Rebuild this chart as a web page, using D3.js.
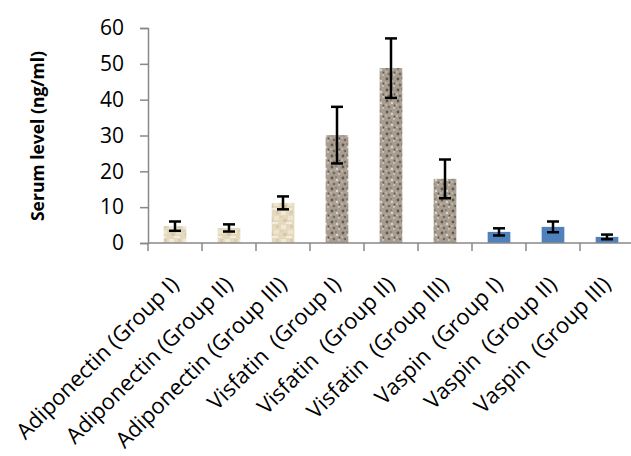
<!DOCTYPE html>
<html lang="en">
<head>
<meta charset="utf-8">
<title>Serum levels</title>
<script src="https://cdnjs.cloudflare.com/ajax/libs/d3/7.8.5/d3.min.js"></script>
<style>
  body { margin: 0; background: #fff; }
  text { font-family: "Open Sans", sans-serif; fill: #000; }
  .xlab { white-space: pre; }
</style>
</head>
<body>
<script>
// data
var categories = ["Adiponectin (Group I)", "Adiponectin (Group II)", "Adiponectin (Group III)",
                  "Visfatin  (Group I)", "Visfatin  (Group II)", "Visfatin  (Group III)",
                  "Vaspin  (Group I)", "Vaspin  (Group II)", "Vaspin  (Group III)"];
var hormone = ["adiponectin", "adiponectin", "adiponectin",
               "visfatin", "visfatin", "visfatin",
               "vaspin", "vaspin", "vaspin"];
var means = [4.7, 4.2, 11.2, 30.1, 48.8, 17.9, 3.1, 4.5, 1.7];
var errors = [1.3, 1.0, 1.8, 7.9, 8.3, 5.4, 1.0, 1.5, 0.65];
var yTicks = [0, 10, 20, 30, 40, 50, 60];

var w = 631, h = 456;
var mLeft = 148, mRight = 634, mTop = 28, mBottom = 243;

var svg = d3.select("body").append("svg")
  .attr("width", w)
  .attr("height", h);

// textures for the bars
var defs = svg.append("defs");

var beige = defs.append("pattern").attr("id", "adiponectin")
  .attr("patternUnits", "userSpaceOnUse").attr("width", 14).attr("height", 14);
beige.append("rect").attr("width", 14).attr("height", 14).attr("fill", "#e4d8bd");
[[1,1,5,4,"#f1e9d8"],[8,6,5,4,"#eee4cf"],[3,9,4,3,"#d6c8ab"],[10,1,3,3,"#d9cbb0"],[0,6,3,2,"#ddd0b5"],[6,12,6,2,"#f3ecde"]]
  .forEach(function(p) {
    beige.append("rect").attr("x", p[0]).attr("y", p[1]).attr("width", p[2]).attr("height", p[3]).attr("fill", p[4]);
  });

var granite = defs.append("pattern").attr("id", "visfatin")
  .attr("patternUnits", "userSpaceOnUse").attr("width", 11).attr("height", 11);
granite.append("rect").attr("width", 11).attr("height", 11).attr("fill", "#a89d91");
[[2,2,1.4,"#62574c"],[7,4,1.2,"#ddd5ca"],[4,8,1.3,"#76695c"],[9,9,1,"#d2c9be"],[1,6,0.9,"#c6bcb1"],[6,1,0.9,"#84776a"],[9.5,6.5,0.9,"#5f5449"],[5,5,0.7,"#bfb4a8"]]
  .forEach(function(p) {
    granite.append("circle").attr("cx", p[0]).attr("cy", p[1]).attr("r", p[2]).attr("fill", p[3]);
  });

var fills = { adiponectin: "url(#adiponectin)", visfatin: "url(#visfatin)", vaspin: "#4f81bd" };

var x = d3.scaleBand()
  .domain(categories)
  .range([mLeft, mRight])
  .paddingInner(0.58)
  .paddingOuter(0.29);

var y = d3.scaleLinear()
  .domain([0, 60])
  .range([mBottom, mTop]);

// bars
svg.selectAll("rect.bar")
  .data(categories)
  .enter()
  .append("rect")
  .attr("class", "bar")
  .attr("x", function(d) { return x(d); })
  .attr("width", x.bandwidth())
  .attr("y", function(d, i) { return y(means[i]); })
  .attr("height", function(d, i) { return y(0) - y(means[i]); })
  .attr("fill", function(d, i) { return fills[hormone[i]]; });

// y axis
var yAxis = svg.append("g")
  .attr("transform", "translate(" + mLeft + ",0)")
  .call(d3.axisLeft(y).tickValues(yTicks).tickSize(8).tickPadding(16));
yAxis.select(".domain").attr("stroke", "#888").attr("stroke-width", 1.5);
yAxis.selectAll(".tick line").attr("stroke", "#888").attr("stroke-width", 1.5);
yAxis.selectAll(".tick text")
  .style("font-family", "Open Sans")
  .style("font-size", "21px")
  .attr("fill", "#000");

// x axis with tick marks on category borders
var xAxis = svg.append("g")
  .attr("transform", "translate(0," + mBottom + ")");
xAxis.append("line")
  .attr("x1", mLeft).attr("x2", mRight)
  .attr("stroke", "#888").attr("stroke-width", 1.5);
xAxis.selectAll("line.tk")
  .data(categories)
  .enter()
  .append("line")
  .attr("class", "tk")
  .attr("x1", function(d) { return x(d) - x.step() * 0.29; })
  .attr("x2", function(d) { return x(d) - x.step() * 0.29; })
  .attr("y1", 0).attr("y2", 8)
  .attr("stroke", "#888").attr("stroke-width", 1.5);

xAxis.selectAll("text.xlab")
  .data(categories)
  .enter()
  .append("text")
  .attr("class", "xlab")
  .attr("text-anchor", "end")
  .attr("transform", function(d) {
    return "translate(" + (x(d) + x.bandwidth() / 2 + 5) + ",43) rotate(-45)";
  })
  .style("font-size", "22px")
  .text(function(d) { return d; });

// error bars
var eb = svg.append("g").attr("stroke", "#000").attr("stroke-width", 2.5);
categories.forEach(function(c, i) {
  var cx = x(c) + x.bandwidth() / 2;
  var y1 = y(means[i] + errors[i]), y2 = y(means[i] - errors[i]);
  eb.append("line").attr("x1", cx).attr("x2", cx).attr("y1", y1).attr("y2", y2);
  eb.append("line").attr("x1", cx - 6).attr("x2", cx + 6).attr("y1", y1).attr("y2", y1);
  eb.append("line").attr("x1", cx - 6).attr("x2", cx + 6).attr("y1", y2).attr("y2", y2);
});

// y title
svg.append("text")
  .attr("transform", "translate(44,136) rotate(-90)")
  .attr("text-anchor", "middle")
  .style("font-weight", "bold")
  .style("font-size", "17.5px")
  .text("Serum level (ng/ml)");
</script>
</body>
</html>
